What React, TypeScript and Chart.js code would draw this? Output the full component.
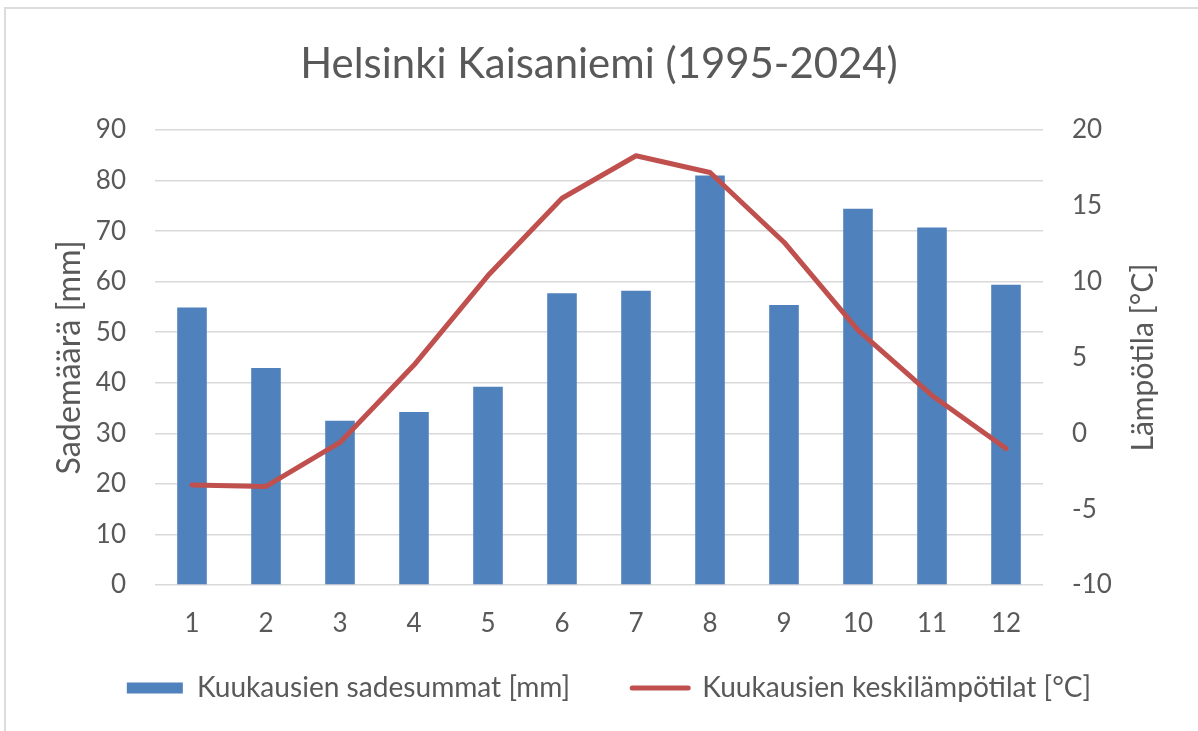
import React, { useEffect, useRef } from 'react';
import { Chart, registerables } from 'chart.js';

Chart.register(...registerables);

const months = ['1', '2', '3', '4', '5', '6', '7', '8', '9', '10', '11', '12'];
const precipitation = [54.9, 42.9, 32.5, 34.2, 39.2, 57.7, 58.2, 81.0, 55.4, 74.4, 70.7, 59.4];
const temperature = [-3.4, -3.5, -0.6, 4.5, 10.4, 15.5, 18.3, 17.2, 12.6, 6.8, 2.5, -1.0];
const chartTitle = 'Helsinki Kaisaniemi (1995-2024)';
const precipLabel = 'Kuukausien sadesummat [mm]';
const tempLabel = 'Kuukausien keskilämpötilat [°C]';
const leftTitle = 'Sademäärä [mm]';
const rightTitle = 'Lämpötila [°C]';

const FAMILY = 'Lato, "Open Sans", sans-serif';

function fitSize(text: string, target: number): number {
  const c = document.createElement('canvas').getContext('2d');
  if (!c) return 24;
  c.font = `100px ${FAMILY}`;
  const w = c.measureText(text).width;
  return Math.round((target / w) * 1000) / 10;
}

export default function App() {
  const ref = useRef<HTMLCanvasElement>(null);

  useEffect(() => {
    const canvas = ref.current;
    if (!canvas) return;

    const textColor = '#595959';
    const gridColor = '#d9d9d9';
    const barColor = '#4f81bd';
    const lineColor = '#c0504d';

    const titleSize = fitSize(chartTitle, 598);
    const legendSize = fitSize(precipLabel, 373);
    const leftTitleSize = fitSize(leftTitle, 234);
    const rightTitleSize = fitSize(rightTitle, 188);
    const tickSize = 26;

    const H = 731;
    const areaTop = 130;
    const areaBottom = 585;
    const axisW = 155;
    const xAxisHeight = 60;

    const titleLH = titleSize * 1.2;
    const titleMid = 64;
    const titlePadTop = titleMid - titleLH / 2;
    const titlePadBottom = areaTop - titleMid - titleLH / 2;

    const legendPad = 62;
    const legendMid = 688;
    const legendShiftX = 10;
    const legendMaxHeight = H - areaBottom - xAxisHeight;

    const leftLH = leftTitleSize * 1.2;

    const rightTitlePlugin = {
      id: 'rightTitle',
      afterDraw(chart: any) {
        const s = chart.scales.y2;
        const { ctx, chartArea } = chart;
        ctx.save();
        ctx.translate(s.right - 55, (chartArea.top + chartArea.bottom) / 2);
        ctx.rotate(-Math.PI / 2);
        ctx.font = `${rightTitleSize}px ${FAMILY}`;
        ctx.fillStyle = textColor;
        ctx.textAlign = 'center';
        ctx.textBaseline = 'middle';
        ctx.fillText(rightTitle, 0, 0);
        ctx.restore();
      },
    };

    const legendPlacePlugin = {
      id: 'legendPlace',
      afterLayout(chart: any) {
        const lg = chart.legend;
        if (!lg) return;
        const top = legendMid - legendPad - legendSize / 2;
        lg.top = top;
        lg.bottom = H;
        lg.height = H - top;
        lg.left += legendShiftX;
        lg.right += legendShiftX;
      },
    };

    const chart = new Chart(canvas, {
      type: 'bar',
      data: {
        labels: months,
        datasets: [
          {
            type: 'bar',
            label: precipLabel,
            data: precipitation,
            backgroundColor: barColor,
            yAxisID: 'y',
            order: 1,
            barPercentage: 0.4,
            categoryPercentage: 1,
          } as any,
          {
            type: 'line',
            label: tempLabel,
            data: temperature,
            borderColor: lineColor,
            backgroundColor: lineColor,
            borderWidth: 5,
            pointRadius: 0,
            pointHoverRadius: 0,
            yAxisID: 'y2',
            order: 0,
            borderCapStyle: 'round',
            borderJoinStyle: 'round',
            tension: 0,
          } as any,
        ],
      },
      options: {
        animation: false,
        responsive: false,
        maintainAspectRatio: false,
        layout: { padding: 0 },
        plugins: {
          title: {
            display: true,
            text: chartTitle,
            color: textColor,
            font: { family: FAMILY, size: titleSize, weight: 'normal', lineHeight: 1.2 },
            padding: { top: titlePadTop, bottom: titlePadBottom },
          },
          legend: {
            position: 'bottom',
            maxHeight: legendMaxHeight,
            labels: {
              color: textColor,
              font: { family: FAMILY, size: legendSize },
              usePointStyle: true,
              pointStyleWidth: 56,
              boxHeight: 11,
              padding: legendPad,
              sort: (a: any, b: any) => a.datasetIndex - b.datasetIndex,
              generateLabels(ch: any) {
                const items = (Chart.defaults.plugins.legend.labels as any).generateLabels(ch);
                items.forEach((it: any) => {
                  if (it.datasetIndex === 0) {
                    it.pointStyle = 'rect';
                    it.lineWidth = 0;
                    it.fillStyle = barColor;
                  } else {
                    it.pointStyle = 'line';
                    it.lineWidth = 5;
                    it.strokeStyle = lineColor;
                    it.lineCap = 'round';
                  }
                });
                return items;
              },
            },
          },
          tooltip: { enabled: false },
        },
        scales: {
          x: {
            grid: { display: false },
            border: { display: false },
            ticks: { color: textColor, font: { family: FAMILY, size: tickSize }, padding: 15 },
            afterFit(scale: any) {
              scale.height = xAxisHeight;
            },
          },
          y: {
            position: 'left',
            min: 0,
            max: 90,
            grid: { color: gridColor, lineWidth: 1.5, drawTicks: false },
            border: { display: false },
            ticks: { stepSize: 10, color: textColor, font: { family: FAMILY, size: tickSize }, padding: 29 },
            title: {
              display: true,
              text: leftTitle,
              color: textColor,
              font: { family: FAMILY, size: leftTitleSize, lineHeight: 1.2 },
              padding: { top: 70 - leftLH / 2, bottom: 0 },
            },
            afterFit(scale: any) {
              scale.width = axisW;
            },
          },
          y2: {
            position: 'right',
            min: -10,
            max: 20,
            grid: { display: false, drawTicks: false },
            border: { display: false },
            ticks: { stepSize: 5, color: textColor, font: { family: FAMILY, size: tickSize }, padding: 29 },
            afterFit(scale: any) {
              scale.width = axisW;
            },
          },
        },
      } as any,
      plugins: [rightTitlePlugin, legendPlacePlugin],
    });

    return () => chart.destroy();
  }, []);

  return (
    <>
      <div
        style={{
          position: 'fixed',
          left: 4,
          top: 7,
          right: 0,
          bottom: 0,
          borderTop: '2px solid #dcdcdc',
          borderLeft: '2px solid #dcdcdc',
        }}
      />
      <canvas
        ref={ref}
        width={1198}
        height={731}
        style={{ position: 'fixed', left: 0, top: 0, width: 1198, height: 731, display: 'block' }}
      />
    </>
  );
}
